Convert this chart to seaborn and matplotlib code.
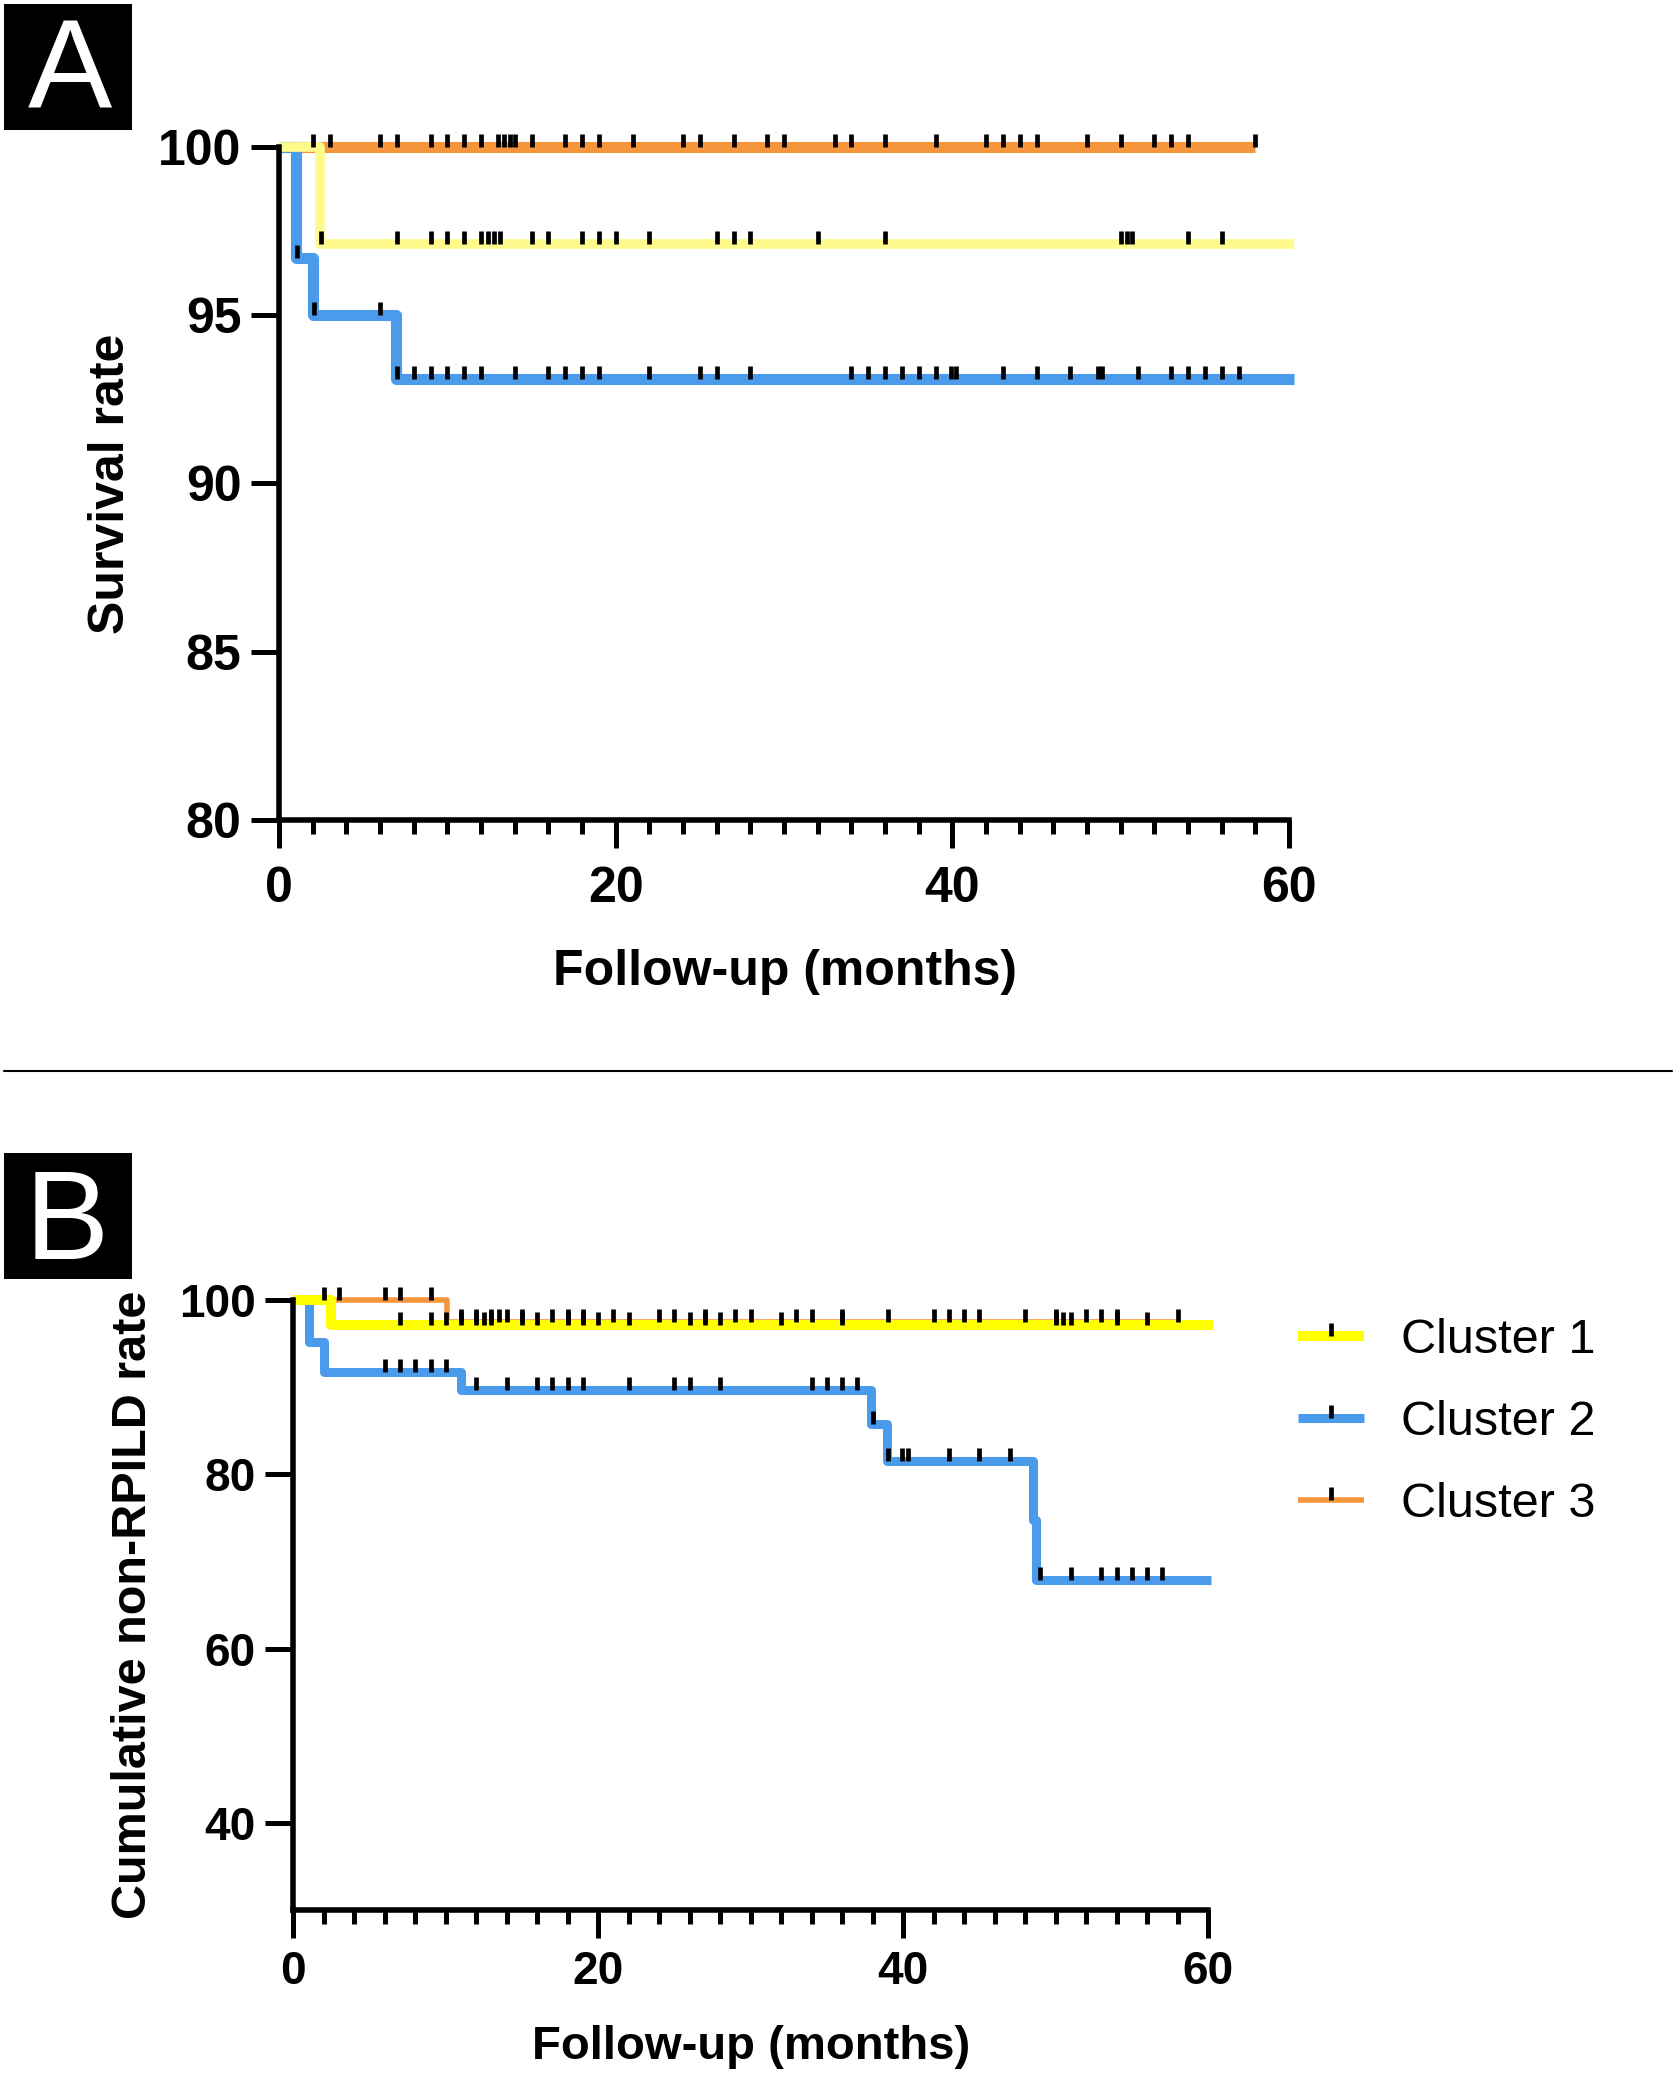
import numpy as np
import pandas as pd
import matplotlib.pyplot as plt
from matplotlib.lines import Line2D
from matplotlib.patches import Rectangle
from matplotlib.ticker import MultipleLocator
import seaborn as sns

# ---- data (months, percent) ----
clusters = ["Cluster 1", "Cluster 2", "Cluster 3"]

# panel A: overall survival
a_c1_drops = [2.45]
a_c1_levels = [97.1]
a_c1_end = 60.3
a_c1_censor = [2.5, 7, 9, 10, 11, 12, 12.4, 12.75, 13.1, 15, 16, 18, 19, 20, 22,
               26, 27, 28, 32, 36, 50, 50.35, 50.7, 54, 56]

a_c2_drops = [1.0, 2.0, 6.95]
a_c2_levels = [96.7, 95.0, 93.1]
a_c2_end = 60.3
a_c2_censor = [1.05, 2.1, 6, 7, 8, 9, 10, 11, 12, 14, 16, 17, 18, 19, 22, 25, 26,
               28, 34, 35, 36, 37, 38, 39, 39.9, 40.2, 43, 45, 47, 48.65, 48.9,
               51, 53, 54, 55, 56, 57]

a_c3_drops = []
a_c3_levels = []
a_c3_end = 58
a_c3_censor = [2, 3, 6, 7, 9, 10, 11, 12, 13, 13.35, 13.7, 14, 15, 17, 18, 19, 21,
               24, 25, 27, 29, 30, 33, 34, 36, 39, 42, 43, 44, 45, 48, 50, 52, 53,
               54, 58]

# panel B: cumulative non-RPILD rate
b_c1_drops = [2.5]
b_c1_levels = [97.1]
b_c1_end = 60.3
b_c1_censor = [7, 9, 10, 11, 12, 12.5, 13, 15, 16, 18, 19, 20, 22, 26, 27, 28, 32,
               36, 50, 50.5, 51, 54, 56]

b_c2_drops = [1.05, 2.0, 11.0, 37.9, 38.95, 48.5, 48.75]
b_c2_levels = [95.2, 91.7, 89.7, 85.8, 81.5, 74.7, 67.9]
b_c2_end = 60.2
b_c2_censor = [6, 7, 8, 9, 10, 12, 14, 16, 17, 18, 19, 22, 25, 26, 28, 34, 35, 36,
               37, 38, 39, 39.9, 40.3, 43, 45, 47, 49, 51, 53, 54, 55, 56, 57]

b_c3_drops = [10.05]
b_c3_levels = [97.5]
b_c3_end = 58
b_c3_censor = [2, 3, 6, 7, 9, 11, 12, 13, 13.5, 14, 15, 17, 18, 19, 21, 24, 25, 27,
               29, 30, 33, 34, 36, 39, 42, 43, 44, 45, 48, 50, 52, 53, 54, 58]

YELLOW_A = "#FFFA8C"
YELLOW_B = "#FFFF00"
BLUE = "#4B9BEC"
ORANGE = "#F5953C"

W, H = 1675, 2076

sns.set_theme(style="ticks")
plt.rcParams["font.family"] = ["Liberation Sans", "DejaVu Sans"]
plt.rcParams.update({"text.color": "black", "axes.labelcolor": "black",
                     "xtick.color": "black", "ytick.color": "black",
                     "axes.edgecolor": "black"})


def rect(l, t, r, b):
    return [l / W, 1 - b / H, (r - l) / W, (b - t) / H]


def step_frame(drops, levels, end):
    t = [0.0] + list(drops) + [end]
    s = [100.0] + list(levels) + [levels[-1] if levels else 100.0]
    return pd.DataFrame({"month": t, "rate": s})


def censor_y(df, times):
    idx = np.searchsorted(df["month"].values, times, side="right") - 1
    return df["rate"].values[idx]


def draw_curve(ax, drops, levels, end, censor, color, lw):
    df = step_frame(drops, levels, end)
    sns.lineplot(data=df, x="month", y="rate", ax=ax, color=color, linewidth=lw,
                 drawstyle="steps-post", estimator=None, sort=False,
                 solid_capstyle="butt", clip_on=False, legend=False)
    ax.plot(censor, censor_y(df, censor), ls="none", marker=2, markersize=9.5,
            markeredgewidth=3.4, color="black", clip_on=False, zorder=10)


def style_axis(ax, ylim, yticks, fs, xpad):
    ax.set_xlim(0, 60)
    ax.set_ylim(*ylim)
    ax.set_xticks([0, 20, 40, 60])
    ax.xaxis.set_minor_locator(MultipleLocator(2))
    ax.set_yticks(yticks)
    for side in ["top", "right"]:
        ax.spines[side].set_visible(False)
    for side in ["left", "bottom"]:
        ax.spines[side].set_linewidth(4)
        ax.spines[side].set_color("black")
    ax.tick_params(axis="both", which="major", length=20, width=3.6,
                   color="black", labelcolor="black", labelsize=fs)
    ax.tick_params(axis="x", which="major", pad=xpad)
    ax.tick_params(axis="y", which="major", pad=7)
    ax.tick_params(axis="x", which="minor", length=10, width=3.6, color="black")
    for lab in ax.get_xticklabels() + ax.get_yticklabels():
        lab.set_fontweight("bold")
    ax.set_xlabel("")
    ax.set_ylabel("")
    ax.set_facecolor("white")


fig = plt.figure(figsize=(W / 100, H / 100), dpi=100)
fig.patch.set_facecolor("white")

# ---- panel A ----
axA = fig.add_axes(rect(279, 146.7, 1289, 820))
draw_curve(axA, a_c3_drops, a_c3_levels, a_c3_end, a_c3_censor, ORANGE, 8)
draw_curve(axA, a_c2_drops, a_c2_levels, a_c2_end, a_c2_censor, BLUE, 8)
draw_curve(axA, a_c1_drops, a_c1_levels, a_c1_end, a_c1_censor, YELLOW_A, 7)
style_axis(axA, (80, 100), [80, 85, 90, 95, 100], 36, 13)

# ---- panel B ----
axB = fig.add_axes(rect(293.3, 1300, 1208, 1910))
draw_curve(axB, b_c3_drops, b_c3_levels, b_c3_end, b_c3_censor, ORANGE, 4)
draw_curve(axB, b_c2_drops, b_c2_levels, b_c2_end, b_c2_censor, BLUE, 6.5)
draw_curve(axB, b_c1_drops, b_c1_levels, b_c1_end, b_c1_censor, YELLOW_B, 7.2)
style_axis(axB, (30, 100), [40, 60, 80, 100], 33, 9)

# axis titles
fig.text(785 / W, 1 - 985 / H, "Follow-up (months)", ha="center", va="baseline",
         fontsize=36, fontweight="bold")
fig.text(111 / W, 1 - 484 / H, "Survival rate", ha="center", va="center",
         rotation=90, fontsize=36, fontweight="bold")
fig.text(751 / W, 1 - 2059 / H, "Follow-up (months)", ha="center", va="baseline",
         fontsize=34, fontweight="bold")
fig.text(134 / W, 1 - 1605 / H, "Cumulative non-RPILD rate", ha="center",
         va="center", rotation=90, fontsize=35, fontweight="bold")

# legend for panel B
colors_b = [YELLOW_B, BLUE, ORANGE]
widths_b = [7.2, 6.5, 4]
handles = [Line2D([0], [0], color=c, lw=w, marker=2, markersize=9.5,
                  markeredgewidth=3.4, markeredgecolor="black", solid_capstyle="butt")
           for c, w in zip(colors_b, widths_b)]
fig.legend(handles, clusters, loc="upper left",
           bbox_to_anchor=(1298 / W, 1 - 1318 / H), frameon=False, fontsize=35,
           handlelength=1.36, handletextpad=0.75, labelspacing=0.76,
           numpoints=1, borderaxespad=0, borderpad=0)

# panel letters
for (x0, y0, x1, y1, letter, cx, base) in [(4, 4, 132, 130, "A", 70, 108),
                                          (4, 1153, 132, 1279, "B", 67, 1259)]:
    fig.patches.append(Rectangle((x0 / W, 1 - y1 / H), (x1 - x0) / W, (y1 - y0) / H,
                                 transform=fig.transFigure, facecolor="black",
                                 edgecolor="none"))
    fig.text(cx / W, 1 - base / H, letter, color="white", ha="center",
             va="baseline", fontsize=91)

# separator between panels
fig.add_artist(Line2D([4 / W, 1672 / W], [1 - 1071 / H, 1 - 1071 / H],
                      color="black", lw=1.5, transform=fig.transFigure))

fig.savefig("out.png", dpi=100, facecolor="white")
